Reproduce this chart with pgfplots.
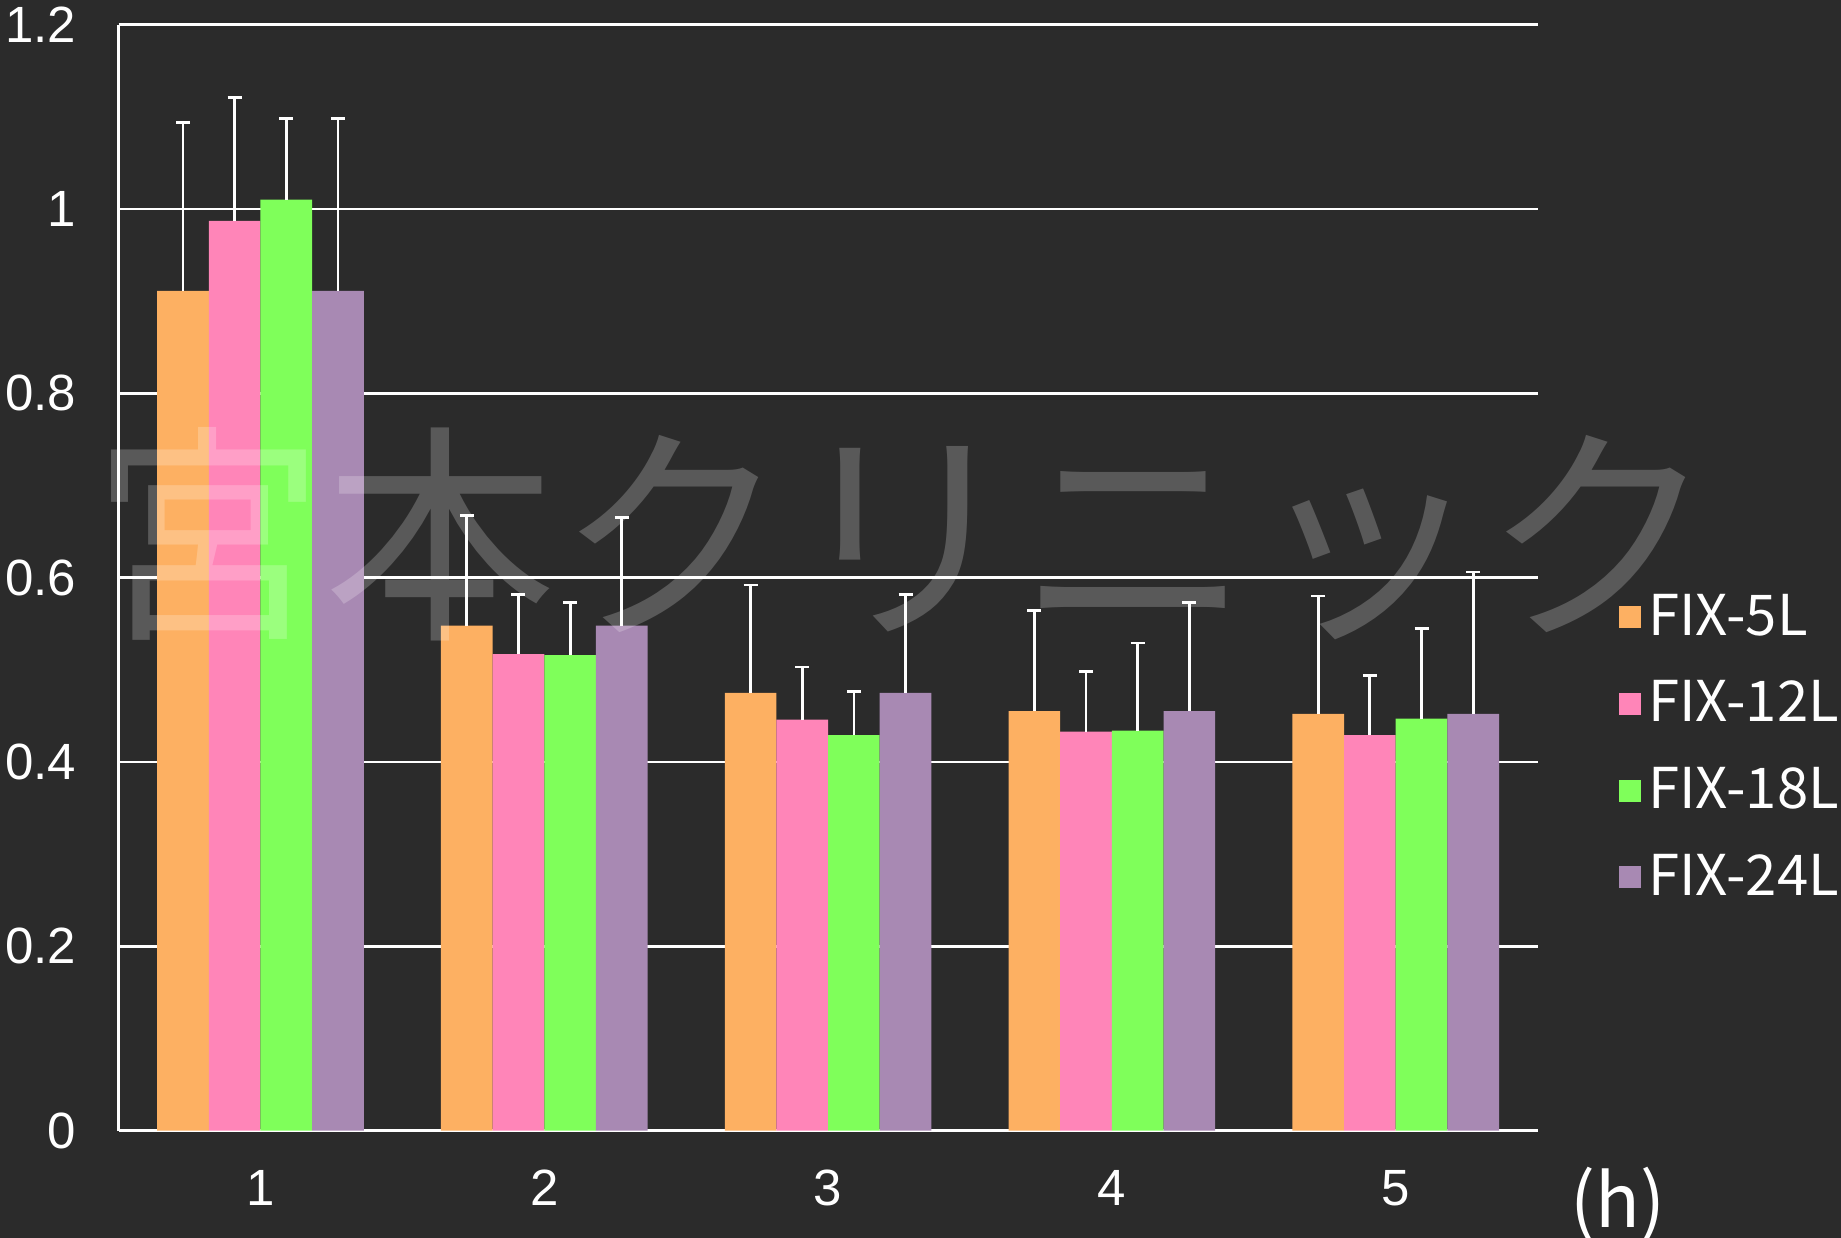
\documentclass[border=0pt]{standalone}
\usepackage{pgfplots}
\pgfplotsset{compat=1.18}
\usepackage{fontspec}
\setmainfont{Liberation Sans}
\newfontfamily\jp{Noto Sans CJK JP}
\definecolor{bg}{HTML}{2B2B2B}
\definecolor{c5}{HTML}{FDB062}
\definecolor{c12}{HTML}{FF85B8}
\definecolor{c18}{HTML}{7FFF5A}
\definecolor{c24}{HTML}{A889B3}
\begin{document}
\begin{tikzpicture}
\fill[bg] (0,0) rectangle (18.41,12.38);
\useasboundingbox (0,0) rectangle (18.41,12.38);
\begin{axis}[
    at={(1.186cm,1.074cm)}, anchor=south west,
    scale only axis, width=14.19cm, height=11.06cm,
    ybar=0pt, bar width=0.182,
    xmin=0.5, xmax=5.5, ymin=0, ymax=1.2,
    xtick={1,2,3,4,5}, ytick={0,0.2,...,1.2},
    major tick length=0pt,
    axis x line=bottom, axis y line=left,
    axis line style={white, line width=1pt, -},
    ymajorgrids, grid style={white, line width=0.8pt},
    tick label style={white, font=\fontsize{14.5}{14.5}\selectfont},
    /pgf/number format/assume math mode=true,
    x tick label style={yshift=-0.27cm},
    y tick label style={xshift=-0.3cm},
    legend cell align=left,
    legend style={at={(1.057,0.492)}, anchor=north west, draw=none, fill=none,
        text=white, font=\jp\fontsize{16}{16}\selectfont, row sep=0.26cm, inner sep=0pt},
    legend image code/.code={\fill[#1] (0cm,-0.11cm) rectangle (0.22cm,0.11cm);},
    every axis plot/.append style={draw=none},
    error bars/y dir=plus, error bars/y explicit,
    error bars/error bar style={white, line width=0.8pt},
    error bars/error mark options={white, rotate=90, mark size=0.07cm, line width=0.8pt},
]
\addplot[fill=c5] coordinates {(1,0.911) +- (0,0.183) (2,0.548) +- (0,0.119) (3,0.475) +- (0,0.117) (4,0.455) +- (0,0.109) (5,0.452) +- (0,0.128)};
\addplot[fill=c12] coordinates {(1,0.987) +- (0,0.134) (2,0.517) +- (0,0.065) (3,0.446) +- (0,0.057) (4,0.433) +- (0,0.065) (5,0.429) +- (0,0.065)};
\addplot[fill=c18] coordinates {(1,1.010) +- (0,0.088) (2,0.516) +- (0,0.057) (3,0.429) +- (0,0.047) (4,0.434) +- (0,0.095) (5,0.447) +- (0,0.098)};
\addplot[fill=c24] coordinates {(1,0.911) +- (0,0.187) (2,0.548) +- (0,0.117) (3,0.475) +- (0,0.107) (4,0.455) +- (0,0.118) (5,0.452) +- (0,0.154)};
\legend{FIX-5L, FIX-12L, FIX-18L, FIX-24L}
\end{axis}
\node[white, opacity=0.22, font=\jp\fontsize{66}{66}\selectfont] at (9.04,7.04) {宮本クリニック};
\node[white, font=\jp\fontsize{21}{21}\selectfont] at (16.18,0.33) {(h)};
\end{tikzpicture}
\end{document}
